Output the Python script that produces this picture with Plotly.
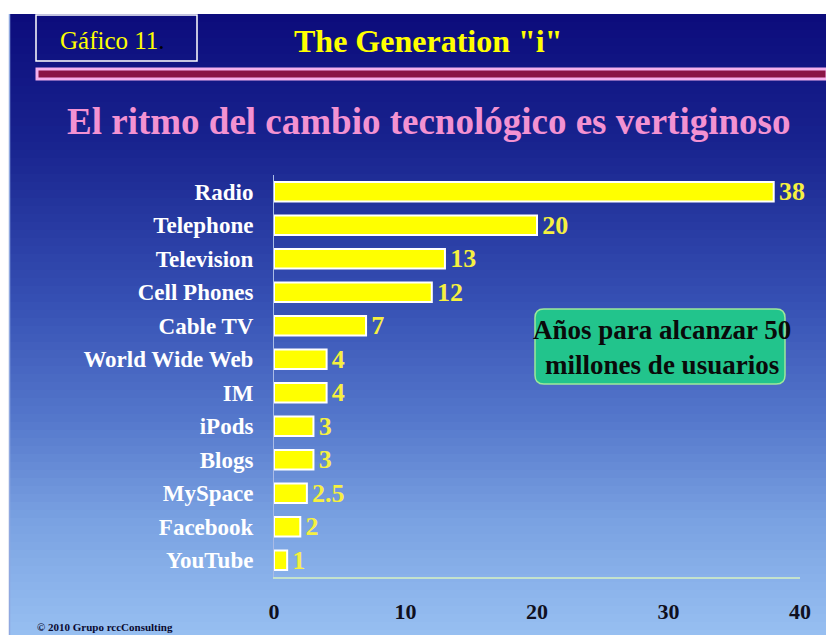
import numpy as np
import plotly.graph_objects as go

# ── Datos ─────────────────────────────────────────────────────────────────────
categorias = ["Radio", "Telephone", "Television", "Cell Phones", "Cable TV",
              "World Wide Web", "IM", "iPods", "Blogs", "MySpace", "Facebook", "YouTube"]
anios = [38, 20, 13, 12, 7, 4, 4, 3, 3, 2.5, 2, 1]
ticks_x = [0, 10, 20, 30, 40]

# la página deja 8 px de margen (body), así que la figura empieza en (8, 8)
OFF = 8
W, H = 834 - OFF, 635 - OFF
SERIF = "Liberation Serif"


def px(x):
    return (x - OFF) / W


def py(y):
    return 1 - (y - OFF) / H


# ── Fondo degradado (franjas) ────────────────────────────────────────────────
stops_y = [14, 150, 300, 420, 520, 635]
stops_c = [(12, 12, 124), (26, 37, 144), (54, 80, 180), (85, 120, 204),
           (122, 162, 226), (152, 192, 242)]
shapes = []
step = 8
for y0 in range(14, 635, step):
    y1 = min(y0 + step + 1, 635)
    ym = (y0 + y1) / 2
    c = [int(np.interp(ym, stops_y, [s[i] for s in stops_c])) for i in range(3)]
    shapes.append(dict(type="rect", xref="paper", yref="paper", layer="below",
                       x0=px(9), x1=1, y0=py(y1), y1=py(y0),
                       fillcolor=f"rgb({c[0]},{c[1]},{c[2]})", line_width=0))
# borde izquierdo de la diapositiva
shapes.append(dict(type="line", xref="paper", yref="paper", layer="below",
                   x0=px(9.5), x1=px(9.5), y0=0, y1=py(14),
                   line=dict(color="#8fa8e0", width=1.5)))
# recuadro "Gáfico 11"
shapes.append(dict(type="rect", xref="paper", yref="paper",
                   x0=px(36), x1=px(197), y0=py(61), y1=py(15),
                   line=dict(color="white", width=1.5)))
# barra rosa
shapes.append(dict(type="rect", xref="paper", yref="paper",
                   x0=px(37), x1=px(827), y0=py(79), y1=py(69),
                   fillcolor="#8a1545", line=dict(color="#f4b0ec", width=3)))
# caja verde redondeada
bx0, bx1, by0, by1, r = px(535), px(785), py(384), py(309), 0.014
rx = r * H / W
path = (f"M {bx0+rx},{by0} L {bx1-rx},{by0} Q {bx1},{by0} {bx1},{by0+r} "
        f"L {bx1},{by1-r} Q {bx1},{by1} {bx1-rx},{by1} L {bx0+rx},{by1} "
        f"Q {bx0},{by1} {bx0},{by1-r} L {bx0},{by0+r} Q {bx0},{by0} {bx0+rx},{by0} Z")
shapes.append(dict(type="path", xref="paper", yref="paper", path=path,
                   fillcolor="#22c48c", line=dict(color="#9ee89a", width=1.5)))

fig = go.Figure()
fig.add_trace(go.Bar(
    x=anios, y=categorias, orientation="h", width=0.58,
    marker=dict(color="#ffff00", line=dict(color="white", width=2)),
    text=[f"\u200a{v:g}" for v in anios], textposition="outside",
    textfont=dict(family=SERIF, size=26, color="#f6f040", weight="bold"),
    constraintext="none", cliponaxis=False, showlegend=False,
))

annotations = [
    dict(text="Gáfico 11<span style='color:black'>.</span>", x=px(112), y=py(40),
         font=dict(family=SERIF, size=25, color="#ffff00")),
    dict(text="The Generation \"i\"", x=px(428), y=py(41),
         font=dict(family=SERIF, size=32, color="#ffff00", weight="bold")),
    dict(text="El ritmo del cambio tecnológico es vertiginoso", x=px(428), y=py(121),
         font=dict(family=SERIF, size=37, color="#f392d2", weight="bold")),
    dict(text="Años para alcanzar 50<br>millones de usuarios", x=px(662), y=py(347),
         font=dict(family=SERIF, size=27, color="#0a0a0a", weight="bold")),
    dict(text="© 2010 Grupo rccConsulting", x=px(35), y=py(627), xanchor="left",
         font=dict(family=SERIF, size=11, color="#0a0a30", weight="bold")),
]
for a in annotations:
    a.update(xref="paper", yref="paper", showarrow=False, yanchor="middle")
    a.setdefault("xanchor", "center")

fig.update_layout(
    width=W, height=H,
    margin=dict(l=0, r=0, t=0, b=0),
    paper_bgcolor="white", plot_bgcolor="rgba(0,0,0,0)",
    shapes=shapes, annotations=annotations,
    xaxis=dict(domain=[px(274), px(800)], range=[0, 40], tickvals=ticks_x,
               showgrid=False, zeroline=False, showline=True,
               linecolor="#c4e2cc", linewidth=1.5, ticks="",
               ticklabelstandoff=14, automargin=False,
               tickfont=dict(family=SERIF, size=22, color="#101020", weight="bold")),
    yaxis=dict(domain=[py(577), py(175)], categoryorder="array",
               categoryarray=categorias, autorange="reversed",
               showgrid=False, zeroline=False, showline=True,
               linecolor="#aabce6", linewidth=1, ticks="",
               ticklabelstandoff=15, automargin=False,
               tickfont=dict(family=SERIF, size=23, color="white", weight="bold")),
)

fig.write_html("out.html")
